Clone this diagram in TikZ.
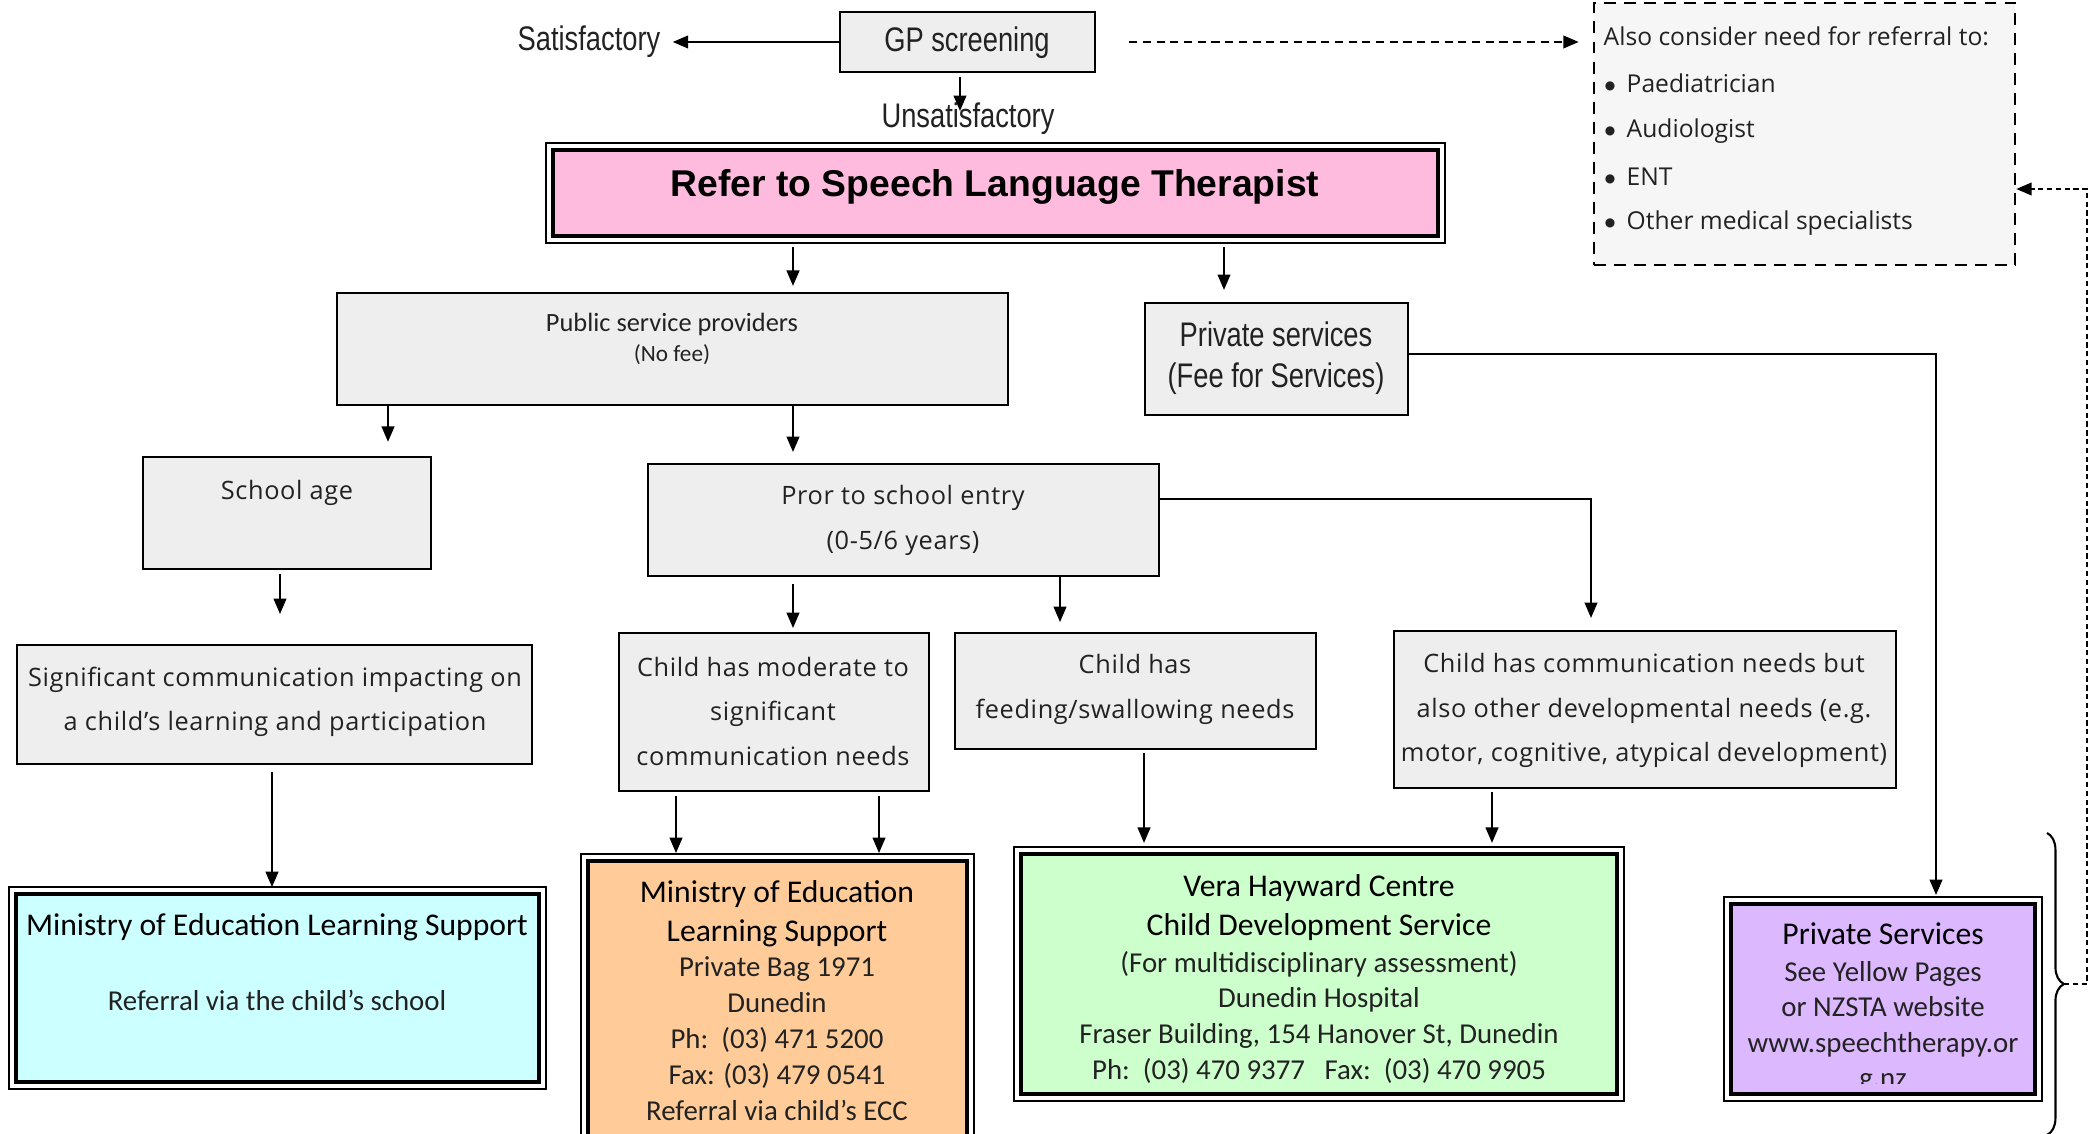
\documentclass[tikz,border=0pt]{standalone}
\usepackage{fontspec}
\setmainfont{Carlito}
\newfontfamily\narrowfont[FakeStretch=0.8]{Liberation Sans}
\newfontfamily\arialfont{Liberation Sans}
\newfontfamily\widefont[LetterSpace=2.5]{Open Sans}
\newfontfamily\segoefont{Open Sans}
\newfontfamily\bulletfont{DejaVu Sans}
\usetikzlibrary{fit,arrows.meta,decorations.pathreplacing,calc}

\definecolor{pinkfill}{HTML}{FFBBDD}
\definecolor{cyanfill}{HTML}{CCFFFF}
\definecolor{orangefill}{HTML}{FFCC99}
\definecolor{greenfill}{HTML}{CCFFCC}
\definecolor{purplefill}{HTML}{DCB8FF}
\definecolor{grayfill}{HTML}{EEEEEE}
\definecolor{alsofill}{HTML}{F6F6F6}
\definecolor{txtgray}{HTML}{222222}

\newcommand\dblframe[1]{\draw[line width=0.5pt] ([shift={(-1.4pt,1.4pt)}]#1.north west) rectangle ([shift={(1.4pt,-1.4pt)}]#1.south east);}
\newcommand\bul{\makebox[0.23cm][l]{\hspace{0.3pt}\raisebox{0.9pt}{\bulletfont\fontsize{3.4}{4}\selectfont ●}}}

\begin{document}
\begin{tikzpicture}[x=0.01cm,y=-0.01cm,
 gbox/.style={draw=black, fill=grayfill, line width=0.6pt, inner sep=0pt},
 dbox/.style={draw=black, line width=1.1pt, inner sep=0pt},
 arr/.style={draw=black, line width=0.6pt, -{Triangle[width=3.6pt,length=4.4pt]}},
 narrow/.style={font=\narrowfont\fontsize{9.7}{11.7}\selectfont, text=txtgray},
 wide/.style={font=\widefont\fontsize{7.2}{12.7}\selectfont, align=center, text=txtgray},
 alsotxt/.style={font=\segoefont\fontsize{7}{9}\selectfont, anchor=west, inner sep=0pt, text=txtgray},
 cal/.style={font=\fontsize{8.2}{10.25}\selectfont, align=center, text=txtgray},
 calhead/.style={font=\fontsize{9}{11.1}\selectfont, align=center},
]
\useasboundingbox (0,0) rectangle (2091,1134);
\clip (0,0) rectangle (2091,1134);

% column / row helper coordinates
\coordinate (x272) at (272,0);
\coordinate (x280) at (280,0);
\coordinate (x388) at (388,0);
\coordinate (x676) at (676,0);
\coordinate (x793) at (793,0);
\coordinate (x879) at (879,0);
\coordinate (x960) at (960,0);
\coordinate (x1060) at (1060,0);
\coordinate (x1144) at (1144,0);
\coordinate (x1224) at (1224,0);
\coordinate (x1492) at (1492,0);
\coordinate (x1591) at (1591,0);
\coordinate (x1936) at (1936,0);
\coordinate (y189) at (0,189);
\coordinate (y354) at (0,354);
\coordinate (y499) at (0,499);

% top
\node[gbox, fit={(840,12) (1095,72)}] (gp) {};
\node[narrow] (gpt) at (967,43) {GP screening};
\node[narrow] (sat) at (589,42) {Satisfactory};
\node[narrow] (unsat) at (968,119) {Unsatisfactory};
\coordinate (unsattop) at (960,111);

% also box
\node[draw=black, fill=alsofill, line width=0.7pt, dash pattern=on 3.4pt off 2.3pt, inner sep=0pt, fit={(1594,3) (2015,265)}] (also) {};
\node[alsotxt] (al0) at (1603,36) {Also consider need for referral to:};
\node[alsotxt] (al1) at (1603,83) {\bul Paediatrician};
\node[alsotxt] (al2) at (1603,131) {\bul Audiologist};
\node[alsotxt] (al3) at (1603,177) {\bul ENT};
\node[alsotxt] (al4) at (1603,223) {\bul Other medical specialists};

% pink
\node[dbox, fill=pinkfill, fit={(553,150) (1438,236)}] (pink) {};
\dblframe{pink}
\node[font=\arialfont\bfseries\fontsize{10.6}{12}\selectfont] (pinkt) at (995,187) {Refer to Speech Language Therapist};

% second level
\node[gbox, fit={(337,293) (1008,405)}] (pub) {};
\node[font=\fontsize{7.5}{9}\selectfont, text=txtgray] (pubt1) at (672,324) {Public service providers};
\node[font=\fontsize{6.6}{8}\selectfont, text=txtgray] (pubt2) at (672,355) {(No fee)};
\node[gbox, fit={(1145,303) (1408,415)}] (priv) {};
\node[narrow, align=center] (privt) at (1276,358.5) {Private services\\(Fee for Services)};

% third level
\node[gbox, fit={(143,457) (431,569)}] (school) {};
\node[wide] (schoolt) at (287,493) {School age};
\node[gbox, fit={(648,464) (1159,576)}] (prior) {};
\node[wide] (priort) at (903,520.5) {Pror to school entry\\(0-5/6 years)};

% fourth level
\node[gbox, fit={(17,645) (532,764)}] (sig) {};
\node[wide] (sigt) at (275,702) {Significant communication impacting on\\a child’s learning and participation};
\node[gbox, fit={(619,633) (929,791)}] (mod) {};
\node[wide] (modt) at (773,711.5) {Child has moderate to\\significant\\communication needs};
\node[gbox, fit={(955,633) (1316,749)}] (feed) {};
\node[wide] (feedt) at (1135,689.5) {Child has\\feeding/swallowing needs};
\node[gbox, fit={(1394,631) (1896,788)}] (other) {};
\node[wide] (othert) at (1644,710.5) {Child has communication needs but\\also other developmental needs (e.g.\\motor, cognitive, atypical development)};

% services
\node[dbox, fill=cyanfill, fit={(16,894) (539,1082)}] (cyan) {};
\dblframe{cyan}
\node[calhead] (cyanh) at (277,927) {Ministry of Education Learning Support};
\node[cal] (cyanb) at (277,1000) {Referral via the child’s school};

\node[dbox, fill=orangefill, fit={(588,861) (967,1145)}] (orange) {};
\dblframe{orange}
\node[calhead] (orangeh) at (777,914) {Ministry of Education\\Learning Support};
\node[cal] (orangeb) at (777,1039) {Private Bag 1971\\Dunedin\\Ph:\ \ (03) 471 5200\\Fax: (03) 479 0541\\Referral via child’s ECC};

\node[dbox, fill=greenfill, fit={(1021,854) (1617,1094)}] (green) {};
\dblframe{green}
\node[calhead] (greenh) at (1319,907.5) {Vera Hayward Centre\\Child Development Service};
\node[cal, font=\fontsize{8.2}{10.15}\selectfont] (greenb) at (1319,1017) {(For multidisciplinary assessment)\\Dunedin Hospital\\Fraser Building, 154 Hanover St, Dunedin\\Ph:\ \ (03) 470 9377\ \ \ Fax:\ \ (03) 470 9905};

\node[dbox, fill=purplefill, fit={(1731,904) (2035,1094)}] (purple) {};
\dblframe{purple}
\node[calhead] (purpleh) at (1883,934) {Private Services};
\begin{scope}
\clip ([yshift=3.4pt]purple.south west) rectangle (purple.north east);
\node[cal, font=\fontsize{8.2}{10.1}\selectfont] (purpleb) at (1883,1027) {See Yellow Pages\\or NZSTA website\\www.speechtherapy.or\\g.nz};
\end{scope}

% brace
\draw[decorate, decoration={brace, amplitude=4.8pt}, line width=0.6pt] (2047,833) -- (2047,1135);
\coordinate (btip) at (2064,984);
\coordinate (rc) at (2087,984);

% connectors
\draw[arr] (gp.west) -- (sat.east);
\draw[arr, shorten <=1.1pt] (gp.south -| x960) -- (unsattop);
\draw[arr, dash pattern=on 2.3pt off 1.6pt, shorten <=9.4pt, shorten >=4pt] (gp.east) -- (gp.east -| also.west);

\draw[arr, shorten <=2.6pt, shorten >=1.7pt] (pink.south -| x793) -- (pub.north -| x793);
\draw[arr, shorten <=2.6pt, shorten >=3.4pt] (pink.south -| x1224) -- (priv.north -| x1224);
\draw[arr, shorten >=4pt] (pub.south -| x388) -- (school.north -| x388);
\draw[arr, shorten >=3.1pt] (pub.south -| x793) -- (prior.north -| x793);
\draw[arr, shorten <=1.1pt, shorten >=8.5pt] (school.south -| x280) -- (sig.north -| x280);
\draw[arr, shorten <=2pt, shorten >=1.4pt] (sig.south -| x272) -- (cyan.north -| x272);
\draw[arr, shorten <=2pt, shorten >=1.1pt] (prior.south -| x793) -- (mod.north -| x793);
\draw[arr, shorten >=2.8pt] (prior.south -| x1060) -- (feed.north -| x1060);
\draw[arr, shorten >=3.4pt] (prior.east |- y499) -| (other.north -| x1591);
\draw[arr, shorten <=1.1pt, shorten >=1.7pt] (mod.south -| x676) -- (orange.north -| x676);
\draw[arr, shorten <=1.1pt, shorten >=1.7pt] (mod.south -| x879) -- (orange.north -| x879);
\draw[arr, shorten <=0.9pt, shorten >=2.6pt] (feed.south -| x1144) -- (green.north -| x1144);
\draw[arr, shorten <=0.9pt, shorten >=2.6pt] (other.south -| x1492) -- (green.north -| x1492);
\draw[arr, shorten >=2pt] (priv.east |- y354) -| (purple.north -| x1936);
\draw[arr, dash pattern=on 1.5pt off 1pt] (btip) -- (rc) |- (also.east |- y189);
\end{tikzpicture}
\end{document}
